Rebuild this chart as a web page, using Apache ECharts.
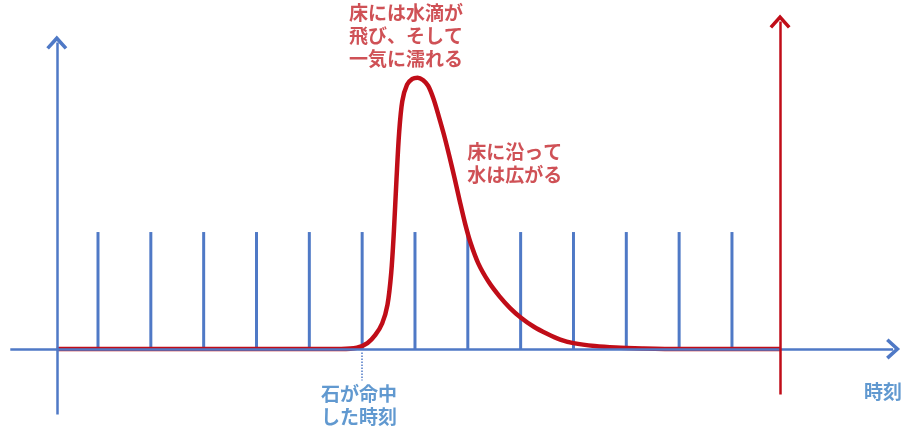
<!DOCTYPE html>
<html lang="ja">
<head>
<meta charset="UTF-8">
<title>石が命中した時刻</title>
<script src="https://cdn.jsdelivr.net/npm/echarts@6/dist/echarts.min.js"></script>
</head>
<body style="margin:0;background:#fff">
<div id="graph" style="width:907px;height:431px;"></div>
<script>
// 時刻 (目盛り) と 縦線の高さ
var tickTimes = [1, 2, 3, 4, 5, 6, 7, 8, 9, 10, 11, 12, 13];
var tickHeights = [1, 1, 1, 1, 1, 1, 1, 1, 1, 1, 1, 1, 1];

// 床の濡れ具合 (赤い曲線)
var wetTimes = [0.22, 5.6, 5.9, 6.1, 6.25, 6.38, 6.48, 6.55, 6.6, 6.65, 6.7, 6.76, 6.85, 6.95, 7.05, 7.15, 7.25, 7.35, 7.45, 7.55, 7.65, 7.75, 7.85, 7.95, 8.05, 8.2, 8.4, 8.6, 8.8, 9.0, 9.25, 9.5, 9.75, 10.0, 10.4, 10.8, 11.3, 12.0, 13.91];
var wetValues = [0, 0, 0.01, 0.05, 0.12, 0.22, 0.38, 0.65, 1.0, 1.45, 1.85, 2.12, 2.26, 2.31, 2.32, 2.3, 2.25, 2.14, 1.99, 1.83, 1.65, 1.46, 1.26, 1.07, 0.91, 0.73, 0.57, 0.45, 0.35, 0.27, 0.19, 0.13, 0.08, 0.05, 0.025, 0.012, 0.005, 0, 0];

var hitTime = 6;
var leftAxisTime = 0.22;
var rightAxisTime = 13.91;

var notes = [
    {t: 6.83, v: 2.68, text: '床には水滴が\n飛び、そして\n一気に濡れる', color: '#c3262c', align: 'center'},
    {t: 7.99, v: 1.59, text: '床に沿って\n水は広がる', color: '#c3262c', align: 'left'},
    {t: 5.94, v: -0.48, text: '石が命中\nした時刻', color: '#3a80c4', align: 'center'},
    {t: 15.86, v: -0.37, text: '時刻', color: '#3a80c4', align: 'center'}
];

var blue = '#4f79c6';
var red = '#c00d18';
var chevron = 'path://M0,12 L12,0 L24,12 L21,14.5 L12,5.5 L3,14.5 Z';

var wetData = [];
for (var i = 0; i < wetTimes.length; i++) {
    wetData.push([wetTimes[i], wetValues[i]]);
}
var tickData = [];
for (var i = 0; i < tickTimes.length; i++) {
    tickData.push([tickTimes[i], tickHeights[i]]);
}
var noteData = [];
for (var i = 0; i < notes.length; i++) {
    noteData.push({
        value: [notes[i].t, notes[i].v],
        label: {
            show: true,
            position: 'inside',
            formatter: notes[i].text,
            color: notes[i].color,
            align: notes[i].align,
            verticalAlign: 'middle',
            fontSize: 19,
            lineHeight: 23,
            fontWeight: 'bold',
            fontFamily: 'Noto Sans CJK JP'
        }
    });
}

var myChart = echarts.init(document.getElementById('graph'));
var option = {
    animation: false,
    grid: {left: 8.19, right: 0.7, top: 4, bottom: 6},
    xAxis: {type: 'value', min: -0.7, max: 16.3, show: false},
    yAxis: {type: 'value', min: -0.65, max: 2.95, show: false},
    series: [
        {
            type: 'bar',
            data: tickData,
            barWidth: 3,
            itemStyle: {color: blue},
            z: 2,
            markLine: {
                silent: true,
                symbol: ['none', chevron],
                symbolSize: [21, 14],
                label: {show: false},
                lineStyle: {color: blue, width: 2.5, type: 'solid'},
                data: [
                    [{coord: [leftAxisTime, -0.56]}, {coord: [leftAxisTime, 2.62]}],
                    [{coord: [-0.66, 0]}, {coord: [16.05, 0]}]
                ]
            }
        },
        {
            type: 'line',
            data: wetData,
            smooth: 0.3,
            showSymbol: false,
            lineStyle: {color: red, width: 4.5},
            z: 3,
            markLine: {
                silent: true,
                symbol: ['none', chevron],
                symbolSize: [21, 14],
                label: {show: false},
                lineStyle: {color: red, width: 2.5, type: 'solid'},
                data: [
                    [{coord: [rightAxisTime, -0.39]}, {coord: [rightAxisTime, 2.80]}]
                ]
            }
        },
        {
            type: 'line',
            data: [],
            showSymbol: false,
            z: 1,
            markLine: {
                silent: true,
                symbol: 'none',
                label: {show: false},
                lineStyle: {color: blue, width: 1.5, type: 'dotted'},
                data: [
                    [{coord: [hitTime, -0.03]}, {coord: [hitTime, -0.27]}]
                ]
            }
        },
        {
            type: 'scatter',
            data: noteData,
            symbolSize: 0,
            silent: true,
            z: 5
        }
    ]
};
myChart.setOption(option);
</script>
</body>
</html>
